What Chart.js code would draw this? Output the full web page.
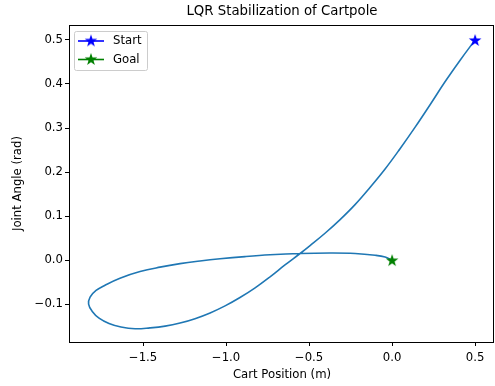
<!DOCTYPE html>
<html lang="en">
<head>
  <meta charset="UTF-8">
  <script src="https://cdn.jsdelivr.net/npm/chart.js"></script>
  <title>LQR Stabilization of Cartpole</title>
  <style>
    html, body {margin: 0; padding: 0; background: #fff; overflow: hidden;}
    canvas {display: block;}
  </style>
</head>
<body>
  <canvas id="myChart" width="495" height="386"></canvas>
  <script>
    // trajectory (cart position, joint angle)
    const pathX = [0.500, 0.410, 0.319, 0.229, 0.139, 0.048, -0.042, -0.133, -0.223, -0.313,
      -0.404, -0.494, -0.554, -0.645, -0.735, -0.825, -0.916, -1.006, -1.096, -1.187,
      -1.277, -1.367, -1.458, -1.548, -1.633, -1.705, -1.765, -1.807, -1.828, -1.819,
      -1.783, -1.729, -1.639, -1.518, -1.398, -1.277, -1.157, -1.036, -0.886, -0.735,
      -0.554, -0.373, -0.223, -0.102, -0.042, 0.0];
    const pathY = [0.500, 0.454, 0.405, 0.353, 0.302, 0.253, 0.207, 0.165, 0.126, 0.092,
      0.061, 0.033, 0.015, -0.011, -0.038, -0.063, -0.085, -0.104, -0.120, -0.133,
      -0.143, -0.150, -0.154, -0.156, -0.152, -0.144, -0.132, -0.116, -0.100, -0.084,
      -0.069, -0.057, -0.041, -0.026, -0.016, -0.008, -0.002, 0.003, 0.008, 0.012,
      0.015, 0.016, 0.015, 0.011, 0.007, 0.0];
    const startPoint = [0.5, 0.5];
    const goalPoint = [0.0, 0.0];
    const xTicks = [-1.5, -1.0, -0.5, 0.0, 0.5];
    const yTicks = [-0.1, 0.0, 0.1, 0.2, 0.3, 0.4, 0.5];

    const pathData = pathX.map((x, i) => ({x: x, y: pathY[i]}));

    function fmt(v){
      const s = Math.abs(v).toFixed(1);
      return v < -1e-9 ? '\u2212' + s : s;
    }

    // filled five point star like matplotlib's '*'
    function starImg(color){
      const c = document.createElement('canvas');
      c.width = 14; c.height = 14;
      const g = c.getContext('2d');
      g.fillStyle = color;
      g.beginPath();
      for (let i = 0; i < 10; i++) {
        const r = i % 2 ? 2.6 : 6.6;
        const a = -Math.PI / 2 + i * Math.PI / 5;
        const px = 7 + r * Math.cos(a), py = 7.6 + r * Math.sin(a);
        if (i == 0) g.moveTo(px, py); else g.lineTo(px, py);
      }
      g.closePath();
      g.fill();
      return c;
    }
    const blueStar = starImg('#0000ff');
    const greenStar = starImg('#008000');

    const font = "'DejaVu Sans', sans-serif";

    // frame, title and legend like matplotlib
    const extras = {
      id: 'extras',
      afterDraw(chart){
        const ctx = chart.ctx, a = chart.chartArea;
        ctx.save();
        ctx.strokeStyle = '#000';
        ctx.lineWidth = 1;
        ctx.strokeRect(Math.round(a.left) + 0.5, Math.round(a.top) + 0.5,
          Math.round(a.right - a.left) - 2, Math.round(a.bottom - a.top));
        ctx.fillStyle = '#000';
        ctx.font = '13.3px ' + font;
        ctx.textAlign = 'center';
        ctx.textBaseline = 'middle';
        ctx.fillText('LQR Stabilization of Cartpole', (a.left + a.right) / 2, 12);

        // legend
        const lx = a.left + 6, ly = a.top + 6;
        ctx.fillStyle = 'rgba(255,255,255,0.8)';
        ctx.strokeStyle = '#cccccc';
        ctx.beginPath();
        ctx.roundRect(lx - 0.5, ly + 0.5, 73, 39, 2);
        ctx.fill();
        ctx.stroke();
        const items = [['Start', '#0000ff', blueStar], ['Goal', '#008000', greenStar]];
        items.forEach((it, i) => {
          const y = ly + 10 + i * 18.5;
          ctx.strokeStyle = it[1];
          ctx.lineWidth = 1.6;
          ctx.beginPath();
          ctx.moveTo(lx + 3, y);
          ctx.lineTo(lx + 29, y);
          ctx.stroke();
          ctx.drawImage(it[2], lx + 16 - 7, y - 7.6);
          ctx.fillStyle = '#000';
          ctx.font = '11.7px ' + font;
          ctx.textAlign = 'left';
          ctx.fillText(it[0], lx + 38, y);
        });
        ctx.restore();
      }
    };

    new Chart(document.getElementById('myChart'), {
      type: 'scatter',
      data: {
        datasets: [{
          type: 'line',
          label: 'trajectory',
          data: pathData,
          borderColor: '#1f77b4',
          borderWidth: 1.6,
          pointRadius: 0,
          fill: false,
          tension: 0.4,
          order: 3
        }, {
          label: 'Start',
          data: [{x: startPoint[0], y: startPoint[1]}],
          pointStyle: blueStar,
          order: 1
        }, {
          label: 'Goal',
          data: [{x: goalPoint[0], y: goalPoint[1]}],
          pointStyle: greenStar,
          order: 2
        }]
      },
      plugins: [extras],
      options: {
        responsive: false,
        animation: false,
        layout: {autoPadding: false, padding: {top: 25, right: 0, left: 0, bottom: 0}},
        plugins: {legend: {display: false}, tooltip: {enabled: false}, title: {display: false}},
        scales: {
          x: {
            type: 'linear',
            min: -1.946, max: 0.62,
            afterBuildTicks(s){ s.ticks = xTicks.map(v => ({value: v})); },
            afterFit(s){ s.height = 44; s.paddingRight = 0; s.paddingLeft = 0; },
            grid: {display: true, drawOnChartArea: false, drawTicks: true, tickLength: 4, color: '#000'},
            border: {display: false},
            ticks: {color: '#000', font: {family: font, size: 11.7}, padding: 5, maxRotation: 0,
              callback: v => fmt(v)},
            title: {display: true, text: 'Cart Position (m)', color: '#000', font: {family: font, size: 11.7}, padding: {top: 0, bottom: 4}}
          },
          y: {
            type: 'linear',
            min: -0.186, max: 0.534,
            afterBuildTicks(s){ s.ticks = yTicks.map(v => ({value: v})); },
            afterFit(s){ s.width = 69; },
            grid: {display: true, drawOnChartArea: false, drawTicks: true, tickLength: 4, color: '#000'},
            border: {display: false},
            ticks: {color: '#000', font: {family: font, size: 11.7}, padding: 2,
              callback: v => fmt(v)},
            title: {display: true, text: 'Joint Angle (rad)', color: '#000', font: {family: font, size: 11.7}, padding: {top: 11, bottom: 0}}
          }
        }
      }
    });
  </script>
</body>
</html>
